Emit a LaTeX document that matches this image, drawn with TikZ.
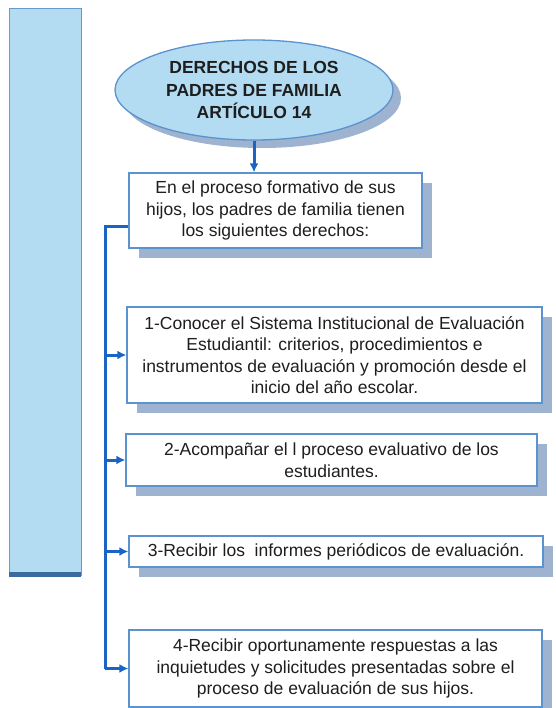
\documentclass[tikz,border=0pt]{standalone}
\usepackage{fontspec}
\setmainfont{Liberation Sans}
\usetikzlibrary{shapes.geometric,shadows,arrows.meta}

\definecolor{sidefill}{HTML}{B3DCF2}
\definecolor{sideline}{HTML}{6C98C8}
\definecolor{sidebase}{HTML}{3D6A9E}
\definecolor{boxline}{HTML}{5B92D0}
\definecolor{shadowblue}{HTML}{9DB3CF}
\definecolor{connblue}{HTML}{1A64C4}
\definecolor{txt}{HTML}{1E1E1E}

\tikzset{
  itembox/.style={draw=boxline, line width=1.3pt, fill=white, align=center,
    text=txt, inner sep=0pt, font=\fontsize{17.5}{21.5}\selectfont,
    drop shadow={shadow xshift=10pt, shadow yshift=-10pt,
      fill=shadowblue, opacity=1}},
  titleoval/.style={ellipse, draw=boxline, line width=1.3pt, fill=sidefill,
    align=center, text=txt, inner sep=0pt,
    font=\fontsize{17.5}{22.5}\selectfont\bfseries,
    drop shadow={shadow xshift=8pt, shadow yshift=-8pt,
      fill=shadowblue, opacity=1}},
  conn/.style={connblue, line width=3pt},
  tip/.style={-{Latex[length=9pt,width=9pt]}}
}

\begin{document}
\begin{tikzpicture}[x=1pt,y=-1pt]
\useasboundingbox (0,0) rectangle (555,708);

% The side bar
\fill[sidefill] (9,9) rectangle (81,576);
\draw[sideline, line width=1pt] (9,576) -- (9,9) -- (81,9) -- (81,576);
\fill[sidebase] (9,572) rectangle (81,577);

% The title and the boxes
\node[titleoval, minimum width=278pt, minimum height=100pt] (title) at (254,90)
  {DERECHOS DE LOS\\PADRES DE FAMILIA\\ARTÍCULO 14};

\node[itembox, minimum width=293pt, minimum height=75pt] (intro) at (275.5,210.5)
  {En el proceso formativo de sus\\hijos, los padres de familia tienen\\los siguientes derechos:};

\node[itembox, minimum width=415pt, minimum height=96pt] (d1) at (334.5,355)
  {1-Conocer el Sistema Institucional de Evaluación\\Estudiantil: criterios, procedimientos e\\instrumentos de evaluación y promoción desde el\\inicio del año escolar.};

\node[itembox, minimum width=411pt, minimum height=52pt] (d2) at (331.5,460)
  {2-Acompañar el l proceso evaluativo de los\\estudiantes.};

\node[itembox, minimum width=414pt, minimum height=31pt] (d3) at (336,551.5)
  {3-Recibir los\ \ informes periódicos de evaluación.};

\node[itembox, minimum width=413pt, minimum height=77pt] (d4) at (335.5,668.5)
  {4-Recibir oportunamente respuestas a las\\inquietudes y solicitudes presentadas sobre el\\proceso de evaluación de sus hijos.};

% Connectors
\draw[conn, tip] (title.south) -- (title.south |- intro.north);

\coordinate (spine) at (105,227);
\draw[conn] (intro.west |- spine) -- (spine) -- (spine |- d4.west);
\foreach \n in {d1,d2,d3,d4}{
  \draw[conn, tip] (spine |- \n.west) -- (\n.west);
}

\end{tikzpicture}
\end{document}
